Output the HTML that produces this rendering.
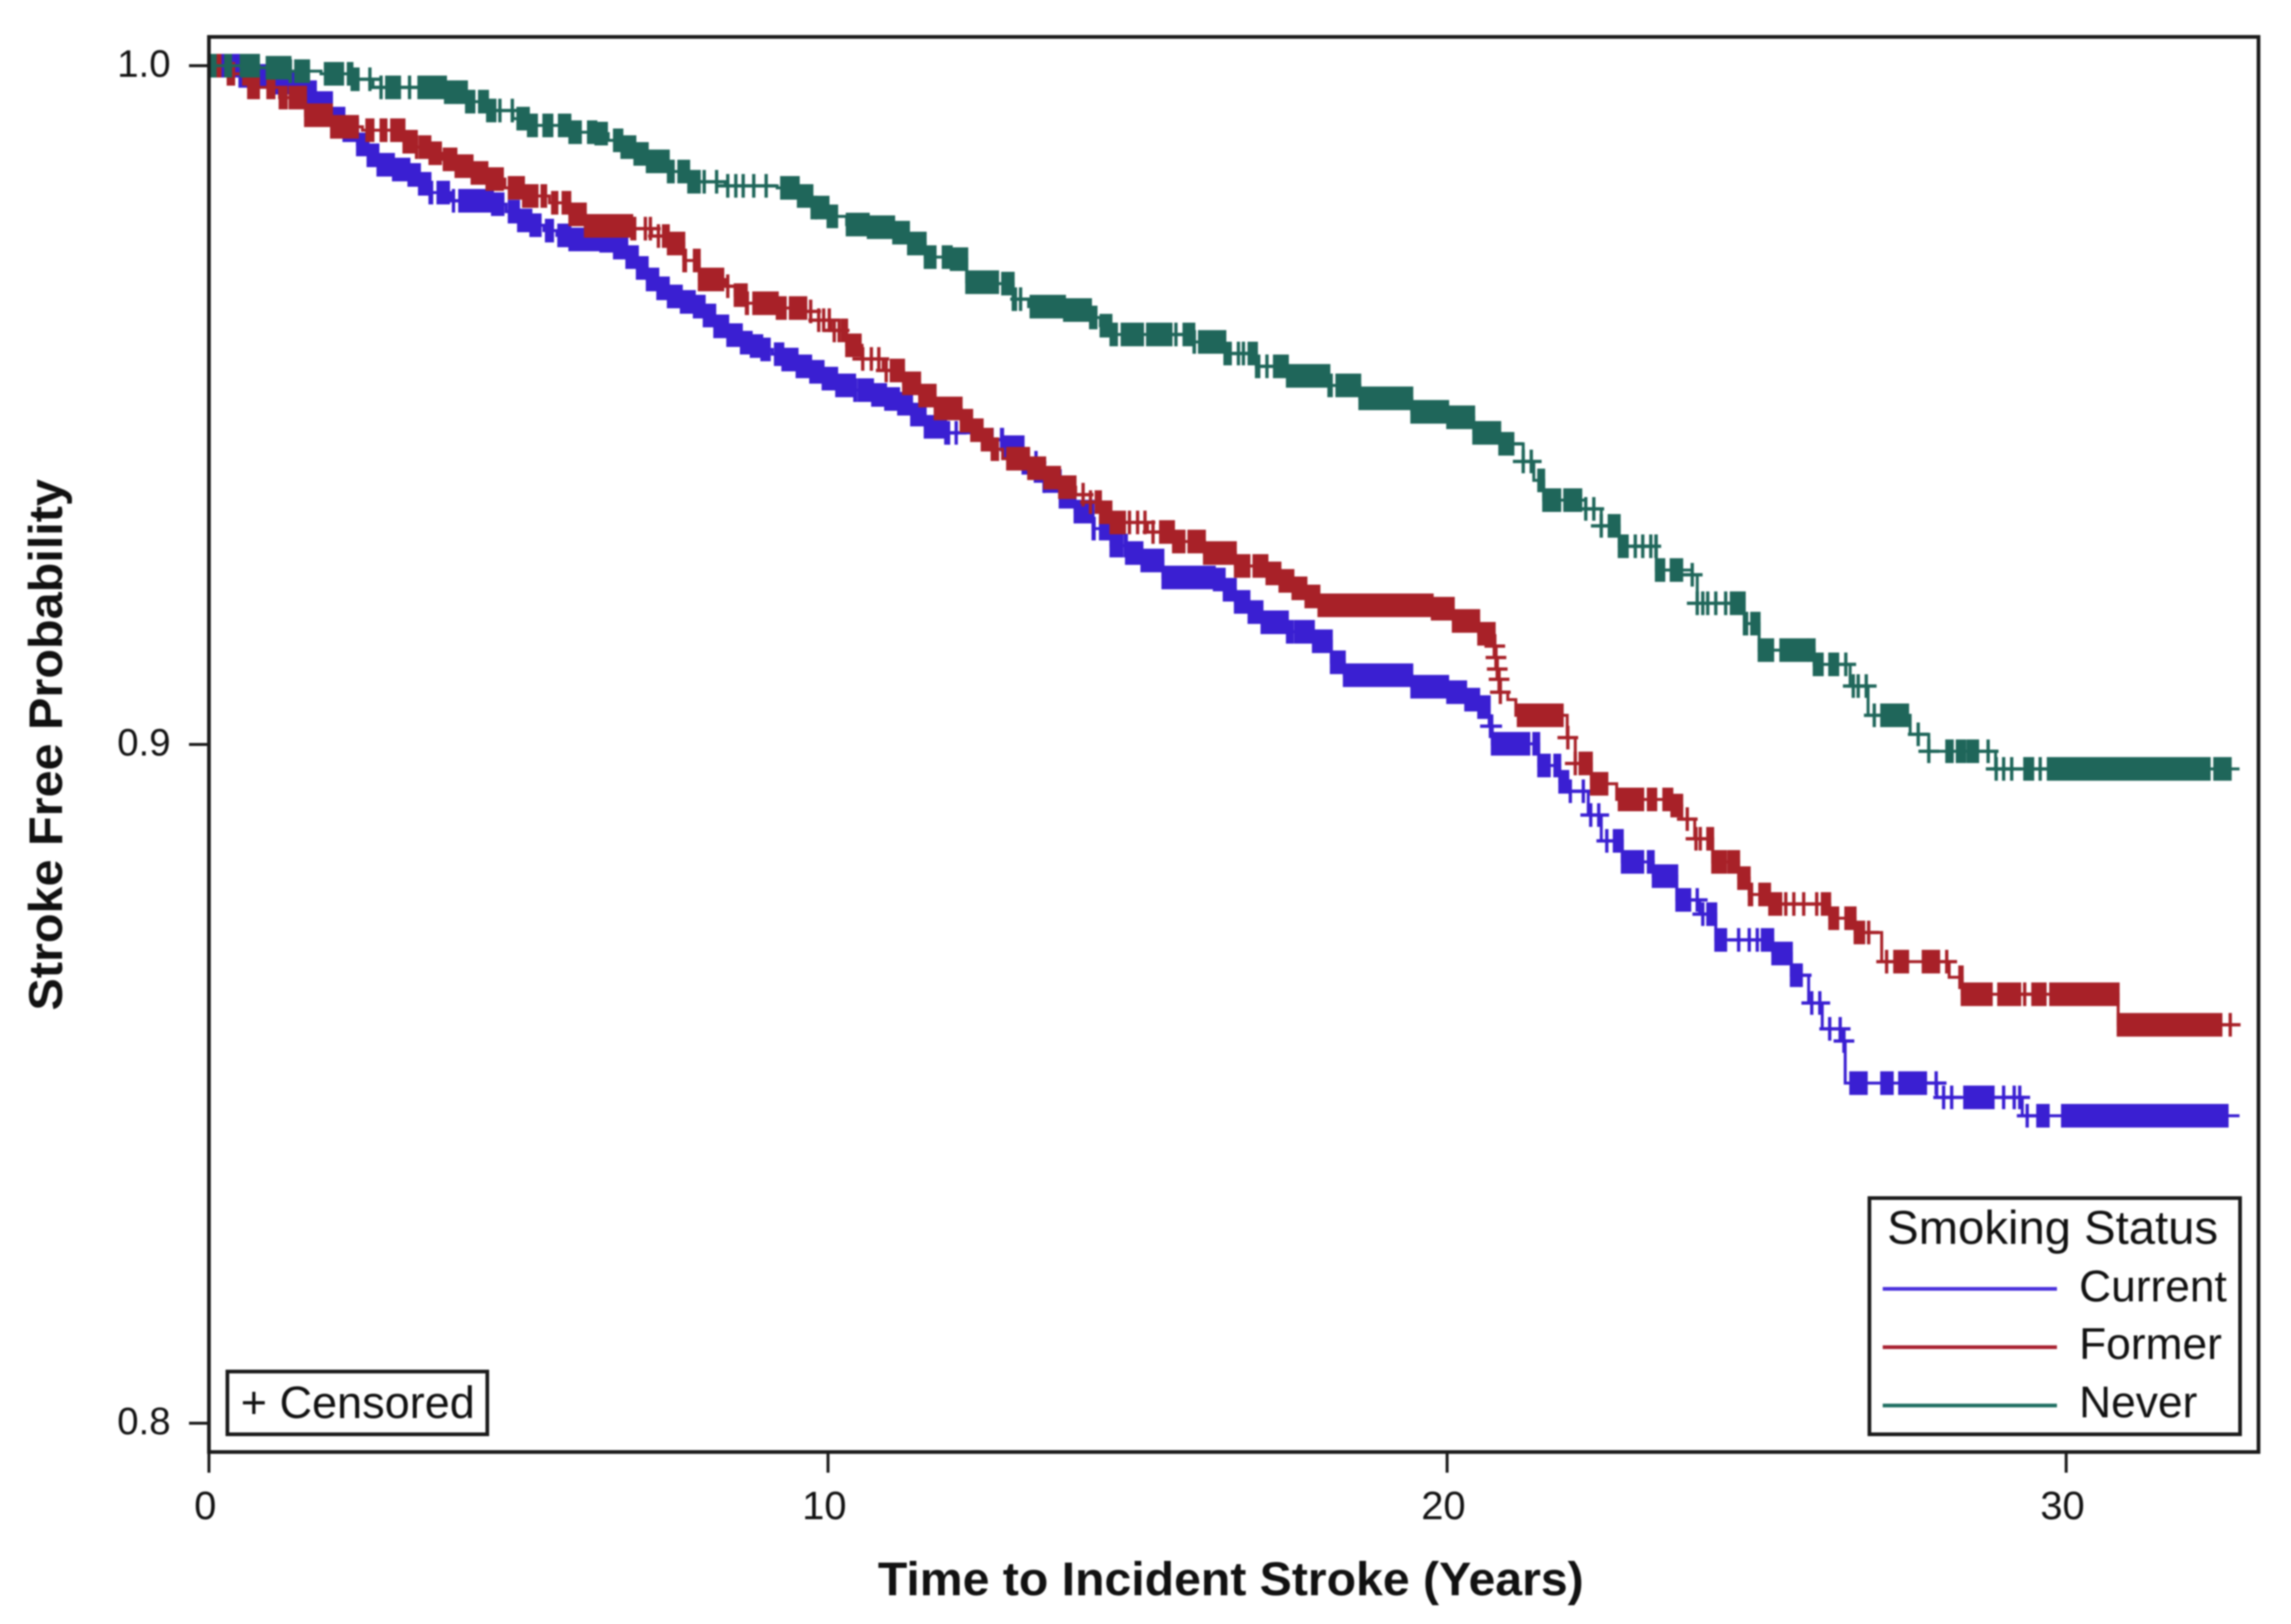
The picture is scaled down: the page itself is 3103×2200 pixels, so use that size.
<!DOCTYPE html>
<html>
<head>
<meta charset="utf-8">
<title>Stroke Free Probability by Smoking Status</title>
<style>
html,body{margin:0;padding:0;background:#fff;}
#chart{display:block;width:3103px;height:2200px;filter:blur(1px);}
text{font-family:"Liberation Sans",sans-serif;fill:#111;}
</style>
</head>
<body>
<svg id="chart" xmlns="http://www.w3.org/2000/svg" width="3103" height="2200" viewBox="0 0 3103 2200">
  <rect x="0" y="0" width="3103" height="2200" fill="#fff"/>
  <g id="series"></g>
  <rect x="283" y="50" width="2776" height="1917" fill="none" stroke="#1a1a1a" stroke-width="5"/>
  <g id="axes"></g>
  <text x="1189" y="2161" font-size="64" font-weight="bold" textLength="956" lengthAdjust="spacingAndGlyphs">Time to Incident Stroke (Years)</text>
  <text transform="translate(84,1369) rotate(-90)" font-size="64" font-weight="bold" textLength="720" lengthAdjust="spacingAndGlyphs">Stroke Free Probability</text>
  <g>
    <rect x="308" y="1858" width="352" height="85" fill="#fff" stroke="#1a1a1a" stroke-width="5"/>
    <text x="326" y="1921" font-size="61">+ Censored</text>
  </g>
  <g>
    <rect x="2532" y="1623" width="502" height="320" fill="#fff" stroke="#1a1a1a" stroke-width="5"/>
    <text x="2556" y="1685" font-size="64">Smoking Status</text>
    <line x1="2550" x2="2786" y1="1746" y2="1746" stroke="#4a30dc" stroke-width="5"/>
    <text x="2816" y="1763" font-size="60">Current</text>
    <line x1="2550" x2="2786" y1="1825" y2="1825" stroke="#a82130" stroke-width="5"/>
    <text x="2816" y="1841" font-size="60">Former</text>
    <line x1="2550" x2="2786" y1="1904" y2="1904" stroke="#1f6f62" stroke-width="5"/>
    <text x="2816" y="1920" font-size="60">Never</text>
  </g>
</svg>
<script>
// ---- tick values ----
const xTicks = [0, 10, 20, 30];
const yTicks = [1.0, 0.9, 0.8];
const endTime = 32.8;

// ---- Current smokers ----
const currentSteps = [[0,1],[0.5,0.9985],[1,0.9975],[1.48,0.9961],[1.72,0.9945],[1.98,0.9922],[2.18,0.9905],[2.4,0.9884],[2.57,0.9868],[2.73,0.9854],[2.98,0.9847],[3.23,0.9839],[3.4,0.9826],[3.57,0.9813],[3.9,0.9801],[4.58,0.9796],[4.8,0.9785],[5,0.9772],[5.2,0.9765],[5.41,0.9757],[5.62,0.975],[5.83,0.9744],[6.33,0.9742],[6.55,0.9732],[6.75,0.9718],[6.92,0.9702],[7.08,0.9685],[7.25,0.9672],[7.42,0.966],[7.63,0.9652],[7.84,0.9645],[8,0.9632],[8.17,0.9616],[8.38,0.9603],[8.6,0.9592],[8.76,0.9587],[8.93,0.9582],[9.1,0.9575],[9.27,0.9567],[9.5,0.9557],[9.72,0.9549],[9.92,0.9539],[10.14,0.9529],[10.43,0.9522],[10.72,0.9515],[10.93,0.9509],[11.14,0.9502],[11.35,0.9486],[11.57,0.9468],[11.9,0.9459],[12.35,0.9449],[12.82,0.9438],[13.15,0.9415],[13.49,0.9388],[13.75,0.9365],[13.99,0.9343],[14.28,0.9318],[14.57,0.9293],[14.82,0.9282],[15.07,0.9271],[15.41,0.9246],[16.24,0.9243],[16.4,0.9228],[16.58,0.921],[16.8,0.9195],[17.01,0.918],[17.42,0.9166],[17.84,0.9152],[18.13,0.9121],[18.34,0.9102],[19.43,0.9085],[20.01,0.9077],[20.3,0.9066],[20.51,0.9055],[20.68,0.9027],[20.73,0.9001],[21.48,0.8969],[21.82,0.8945],[21.99,0.8931],[22.28,0.8896],[22.49,0.8858],[22.83,0.8827],[23.33,0.8806],[23.71,0.8771],[24.08,0.875],[24.34,0.8712],[25.26,0.8692],[25.56,0.866],[25.84,0.8619],[26.06,0.8581],[26.39,0.8563],[26.43,0.8501],[27.91,0.848],[29.29,0.8453]];
const currentRuns = [[0,3.6],[3.7,3.87],[4.05,4.75],[4.85,5.35],[5.45,5.55],[5.65,9.05],[9.15,10.45],[10.5,11.95],[12.8,13.2],[13.5,14.3],[14.4,14.75],[14.8,17.5],[17.55,20.68],[20.73,21.32],[21.4,21.65],[21.74,21.95],[22.7,23.16],[23.25,23.92],[24.21,24.5],[25.09,25.68],[26.52,26.77],[27.02,27.19],[27.31,27.73],[28.36,28.82],[29.54,29.71],[29.94,32.6]];
const currentCensored = [3.95,11.94,12.07,12.65,13.36,13.49,20.7,20.72,21.99,22.2,22.32,22.45,22.58,24.04,24.13,24.71,24.88,25.01,25.72,25.89,26.02,26.18,26.35,26.41,27.9,28.02,28.15,28.99,29.16,29.25,29.37];

// ---- Former smokers ----
const formerSteps = [[0,1],[0.31,0.9988],[0.64,0.9968],[1.14,0.9953],[1.56,0.9927],[1.98,0.991],[2.48,0.9905],[3.15,0.9888],[3.35,0.988],[3.57,0.9871],[3.78,0.9862],[3.99,0.9852],[4.25,0.9842],[4.49,0.9833],[4.78,0.982],[5.08,0.9808],[5.5,0.9798],[5.83,0.9781],[6.08,0.9764],[6.83,0.976],[7.15,0.9749],[7.42,0.9738],[7.67,0.9713],[7.92,0.9685],[8.34,0.9675],[8.5,0.9662],[8.68,0.965],[9.18,0.9643],[9.64,0.9638],[9.85,0.9625],[10.05,0.961],[10.3,0.9588],[10.55,0.9568],[10.89,0.9551],[11.22,0.9532],[11.48,0.9514],[11.73,0.9495],[12.15,0.9477],[12.32,0.9463],[12.49,0.9449],[12.65,0.9435],[12.82,0.9421],[13.24,0.9407],[13.5,0.9393],[13.74,0.9379],[14,0.9368],[14.24,0.9357],[14.4,0.9342],[14.57,0.9327],[15.16,0.9313],[15.58,0.9299],[16.08,0.9282],[16.58,0.9263],[17.09,0.9252],[17.3,0.9241],[17.51,0.923],[17.72,0.9218],[17.93,0.9205],[19.76,0.92],[20.1,0.9182],[20.51,0.9163],[20.76,0.9145],[20.78,0.9128],[20.8,0.9111],[20.83,0.9096],[20.85,0.9077],[20.98,0.9066],[21.11,0.9043],[21.94,0.901],[22.07,0.8972],[22.33,0.8942],[22.74,0.8919],[23.63,0.891],[23.79,0.889],[24,0.8861],[24.29,0.8827],[24.71,0.8803],[24.88,0.8779],[25.21,0.8765],[26.18,0.8744],[26.59,0.8723],[27.02,0.868],[28.11,0.8657],[28.32,0.8632],[30.84,0.8587]];
const formerRuns = [[0.06,0.18],[0.31,0.4],[0.56,0.8],[0.95,1.05],[1.15,1.25],[1.31,2.4],[2.55,2.65],[2.78,2.86],[2.95,3.36],[3.41,3.74],[3.8,4.74],[4.85,5.3],[5.38,5.44],[5.55,5.62],[5.72,6.88],[7.34,7.7],[7.84,8.3],[8.5,8.7],[8.8,9.31],[9.39,9.64],[10.23,10.52],[11.02,12.74],[12.9,13.99],[14.33,14.79],[15.37,15.75],[15.83,16.8],[16.88,20.77],[21.15,21.86],[22.2,22.58],[22.78,23.16],[23.25,23.37],[23.5,23.79],[24.21,24.5],[24.55,24.92],[25.05,25.39],[26.06,26.31],[26.44,26.73],[27.23,27.44],[27.69,27.94],[28.28,28.79],[28.91,29.25],[29.46,29.66],[29.75,30.84],[30.84,32.5]];
const formerCensored = [7.05,7.13,7.26,8.38,9.72,9.85,9.93,10.02,10.1,10.18,10.56,10.7,10.82,10.94,14.12,14.24,14.87,15,15.12,15.25,20.77,20.79,20.81,20.84,20.86,21.95,22.07,22.15,23.88,24.02,24.09,25.47,25.6,25.76,25.97,26.81,27.1,28.07,29.33,32.65];

// ---- Never smokers ----
const neverSteps = [[0,1],[0.81,0.9997],[1.31,0.9992],[1.81,0.9988],[2.31,0.998],[2.65,0.9968],[3.82,0.9961],[4.16,0.9947],[4.5,0.9934],[4.91,0.9922],[5.16,0.9912],[5.83,0.9902],[6.25,0.99],[6.45,0.989],[6.67,0.988],[6.88,0.987],[7.08,0.9859],[7.42,0.9844],[7.75,0.9829],[8.34,0.9823],[9.18,0.982],[9.52,0.9808],[9.74,0.9791],[10,0.9778],[10.3,0.9766],[10.65,0.9762],[11.06,0.9754],[11.3,0.9738],[11.57,0.9718],[11.99,0.9715],[12.24,0.9681],[12.74,0.9679],[12.99,0.9656],[13.24,0.9645],[13.82,0.964],[14.24,0.9629],[14.4,0.9617],[14.57,0.9604],[15.91,0.9593],[16.41,0.9576],[16.92,0.9557],[17.42,0.9543],[18.09,0.9529],[18.59,0.951],[19.43,0.949],[20.01,0.9482],[20.43,0.9459],[20.85,0.9443],[21.23,0.9417],[21.4,0.9389],[21.56,0.936],[22.24,0.9347],[22.49,0.9322],[22.78,0.9292],[23.38,0.9257],[23.96,0.925],[24.04,0.9208],[24.8,0.9178],[25.04,0.9139],[25.93,0.9118],[26.51,0.9086],[26.8,0.9043],[27.48,0.9015],[27.78,0.899],[28.86,0.8964]];
const neverRuns = [[0.02,0.1],[0.27,0.35],[0.52,0.8],[0.94,1.32],[1.4,1.61],[1.88,2.16],[2.25,2.41],[2.87,3.08],[3.39,3.99],[4.03,4.28],[4.37,4.62],[4.99,5.29],[5.41,5.54],[5.66,6],[6.13,6.42],[6.55,7.5],[7.59,7.92],[9.25,9.8],[9.81,10.14],[10.31,11.73],[11.86,12.74],[12.82,13.03],[13.28,14.33],[14.41,14.66],[14.75,15.08],[15.16,15.54],[15.75,15.92],[16,16.5],[16.8,16.96],[17.21,18.13],[18.22,21.02],[21.48,21.82],[21.9,22.16],[22.66,22.91],[23.37,23.5],[23.62,23.79],[24.59,24.84],[24.92,25.26],[25.39,25.81],[25.85,26.06],[26.18,26.31],[27.02,27.44],[28.07,28.16],[28.24,28.36],[28.41,28.57],[29.33,29.46],[29.71,32.31],[32.4,32.65]];
const neverCensored = [2.6,2.78,3.24,4.7,4.9,8,8.2,8.38,8.51,8.63,8.8,9,13.11,15.62,16.63,16.71,17.09,21.06,21.23,21.36,22.24,22.37,22.49,22.62,23.04,23.16,23.29,23.96,24.04,24.13,24.21,24.34,24.5,26.44,26.56,26.64,26.77,26.9,27.61,27.78,28.74,28.87,28.99,29.12,29.58];

// ---- axis functions ----
function xScale(t){ return 283 + t * 83.85; }
function yScale(s){ return 89 + (1 - s) * 9195; }

const NS = 'http://www.w3.org/2000/svg';
const seriesLayer = document.getElementById('series');
const axesLayer = document.getElementById('axes');

function survivalAt(steps, t){
  let s = steps[0][1];
  for (const st of steps){ if (st[0] <= t) s = st[1]; else break; }
  return s;
}

function stepPath(steps){
  let d = 'M' + xScale(steps[0][0]) + ' ' + yScale(steps[0][1]);
  for (let i = 1; i < steps.length; i++){
    d += 'H' + xScale(steps[i][0]).toFixed(1) + 'V' + yScale(steps[i][1]).toFixed(1);
  }
  d += 'H' + xScale(endTime).toFixed(1);
  return d;
}

function drawSeries(key, colour, steps, runs, censored){
  const g = document.createElementNS(NS, 'g');
  
  
  seriesLayer.appendChild(g);

  const line = document.createElementNS(NS, 'path');
  
  
  line.setAttribute('d', stepPath(steps));
  line.setAttribute('fill', 'none');
  line.setAttribute('stroke', colour);
  line.setAttribute('stroke-width', '4');
  g.appendChild(line);

  for (const run of runs){
    const cuts = [run[0]];
    for (const st of steps){ if (st[0] > run[0] && st[0] < run[1]) cuts.push(st[0]); }
    cuts.push(run[1]);
    for (let i = 0; i < cuts.length - 1; i++){
      const s = survivalAt(steps, cuts[i]);
      const r = document.createElementNS(NS, 'rect');
      
      
      r.setAttribute('x', (xScale(cuts[i]) - 2).toFixed(1));
      r.setAttribute('y', (yScale(s) - 16).toFixed(1));
      r.setAttribute('width', (xScale(cuts[i + 1]) - xScale(cuts[i]) + 4).toFixed(1));
      r.setAttribute('height', '32');
      r.setAttribute('fill', colour);
      g.appendChild(r);
    }
  }

  for (const t of censored){
    const s = survivalAt(steps, t);
    const cx = xScale(t), cy = yScale(s);
    const p = document.createElementNS(NS, 'path');
    
    
    p.setAttribute('d', 'M' + (cx - 14).toFixed(1) + ' ' + cy.toFixed(1) + 'H' + (cx + 14).toFixed(1) + 'M' + cx.toFixed(1) + ' ' + (cy - 16).toFixed(1) + 'V' + (cy + 16).toFixed(1));
    p.setAttribute('fill', 'none');
    p.setAttribute('stroke', colour);
    p.setAttribute('stroke-width', '4.5');
    g.appendChild(p);
  }
}

drawSeries('current', '#3a1fd2', currentSteps, currentRuns, currentCensored);
drawSeries('former', '#a82128', formerSteps, formerRuns, formerCensored);
drawSeries('never', '#1f665a', neverSteps, neverRuns, neverCensored);

for (const v of xTicks){
  const tick = document.createElementNS(NS, 'line');
  
  
  tick.setAttribute('x1', xScale(v));
  tick.setAttribute('x2', xScale(v));
  tick.setAttribute('y1', 1967);
  tick.setAttribute('y2', 1995);
  tick.setAttribute('stroke', '#1a1a1a');
  tick.setAttribute('stroke-width', '4');
  axesLayer.appendChild(tick);
  const label = document.createElementNS(NS, 'text');
  
  
  label.setAttribute('x', xScale(v) - 5);
  label.setAttribute('y', 2058);
  label.setAttribute('text-anchor', 'middle');
  label.setAttribute('font-size', '54');
  label.textContent = String(v);
  axesLayer.appendChild(label);
}

for (const v of yTicks){
  const tick = document.createElementNS(NS, 'line');
  
  
  tick.setAttribute('x1', 256);
  tick.setAttribute('x2', 283);
  tick.setAttribute('y1', yScale(v));
  tick.setAttribute('y2', yScale(v));
  tick.setAttribute('stroke', '#1a1a1a');
  tick.setAttribute('stroke-width', '4');
  axesLayer.appendChild(tick);
  const label = document.createElementNS(NS, 'text');
  
  
  label.setAttribute('x', 231);
  label.setAttribute('y', yScale(v) + 15);
  label.setAttribute('text-anchor', 'end');
  label.setAttribute('font-size', '52');
  label.textContent = v.toFixed(1);
  axesLayer.appendChild(label);
}
</script>
</body>
</html>
